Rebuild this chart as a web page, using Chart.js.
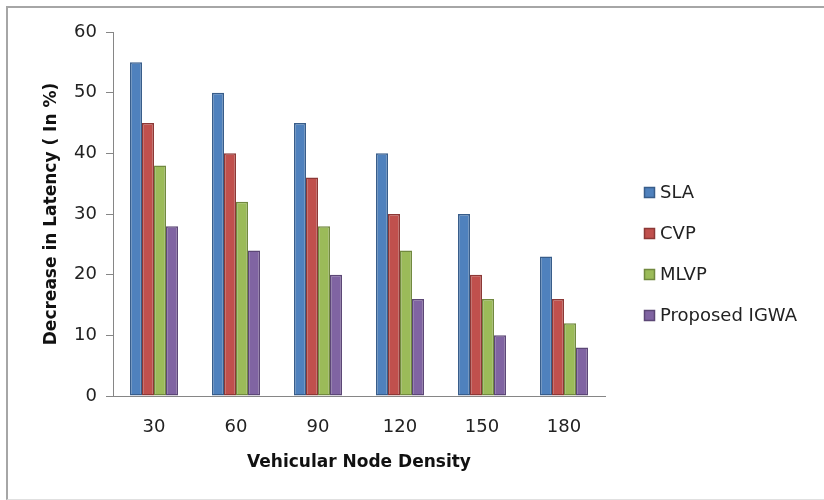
<!DOCTYPE html>
<html>
<head>
<meta charset="utf-8">
<script src="https://cdn.jsdelivr.net/npm/chart.js@4"></script>
<style>
    html, body { margin: 0; padding: 0; background: #fff; overflow: hidden; }
    #frame {
        position: absolute; left: 6px; top: 6px; width: 840px; height: 491px;
        border-top: 2px solid #a6a6a6; border-left: 2px solid #a6a6a6; border-bottom: 1px solid #e0e0e0;
    }
    #wrap { position: absolute; left: 0; top: 0; width: 824px; height: 500px; }
</style>
</head>
<body>
<div id="frame"></div>
<div id="wrap"><canvas id="latencyChart" width="824" height="500"></canvas></div>
<script>
const densities = ["30", "60", "90", "120", "150", "180"];
const slaValues = [55, 50, 45, 40, 30, 23];
const cvpValues = [45, 40, 36, 30, 20, 16];
const mlvpValues = [38, 32, 28, 24, 16, 12];
const igwaValues = [28, 24, 20, 16, 10, 8];
const seriesNames = ["SLA", "CVP", "MLVP", "Proposed IGWA"];
const yTicks = [0, 10, 20, 30, 40, 50, 60];

const fills = ["#4f81bd", "#c0504d", "#9bbb59", "#8064a2"];
const edges = ["#385d8a", "#8c3836", "#71893f", "#5c4776"];

// legende dessinee a la main (style Excel, a droite)
const sideLegend = {
    id: "sideLegend",
    afterDraw(chart) {
        const ctx = chart.ctx;
        ctx.save();
        ctx.font = "18px 'DejaVu Sans'";
        ctx.textBaseline = "middle";
        chart.data.datasets.forEach((ds, i) => {
            const y = 192 + i * 41;
            ctx.fillStyle = ds.backgroundColor;
            ctx.fillRect(644, y - 5, 10, 10);
            ctx.strokeStyle = ds.borderColor;
            ctx.lineWidth = 1.5;
            ctx.strokeRect(644.5, y - 4.5, 10, 10);
            ctx.fillStyle = "#222";
            ctx.fillText(ds.label, 660, y + 1);
        });
        ctx.restore();
    }
};

const allValues = [slaValues, cvpValues, mlvpValues, igwaValues];

new Chart(document.getElementById("latencyChart").getContext("2d"), {
    type: "bar",
    data: {
        labels: densities,
        datasets: seriesNames.map((name, i) => ({
            label: name,
            data: allValues[i],
            backgroundColor: fills[i],
            borderColor: edges[i],
            borderWidth: 1.5,
            borderSkipped: false,
            categoryPercentage: 48 / 82,
            barPercentage: 1
        }))
    },
    options: {
        responsive: false,
        animation: false,
        layout: { padding: { top: 32, right: 219, bottom: 24, left: 38 } },
        plugins: {
            legend: { display: false },
            tooltip: { enabled: false }
        },
        scales: {
            x: {
                grid: { display: false },
                border: { color: "#868686", width: 1 },
                ticks: { color: "#222", font: { family: "DejaVu Sans", size: 18 }, padding: 13 },
                title: {
                    display: true,
                    text: "Vehicular Node Density",
                    color: "#111",
                    font: { family: "DejaVu Sans", size: 17, weight: "bold" },
                    padding: { top: 4, bottom: 3 }
                },
                afterFit: s => { s.height = 80; }
            },
            y: {
                min: 0,
                max: 60,
                afterBuildTicks: s => { s.ticks = yTicks.map(v => ({ value: v })); },
                grid: { drawOnChartArea: false, drawTicks: true, tickLength: 7, color: "#868686" },
                border: { color: "#868686", width: 1 },
                ticks: { color: "#222", font: { family: "DejaVu Sans", size: 18 }, padding: 9 },
                title: {
                    display: true,
                    text: "Decrease in Latency ( In %)",
                    color: "#111",
                    font: { family: "DejaVu Sans", size: 17, weight: "bold" },
                    padding: { top: 3, bottom: 4 }
                },
                afterFit: s => { s.width = 75; }
            }
        }
    },
    plugins: [sideLegend]
});
</script>
</body>
</html>
